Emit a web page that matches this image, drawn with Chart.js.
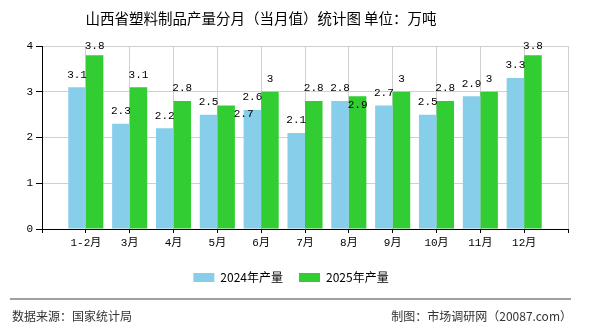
<!DOCTYPE html>
<html>
<head>
<meta charset="utf-8">
<script src="https://cdn.jsdelivr.net/npm/chart.js@4/dist/chart.umd.min.js"></script>
<style>
  html, body { margin: 0; padding: 0; background: #fff; }
  #wrap { width: 590px; height: 330px; position: relative; }
</style>
</head>
<body>
<div id="wrap"><canvas id="c" width="590" height="330"></canvas></div>
<script>
// ---- data ----
const categories = ['1-2月', '3月', '4月', '5月', '6月', '7月', '8月', '9月', '10月', '11月', '12月'];
const values2024 = [3.1, 2.3, 2.2, 2.5, 2.6, 2.1, 2.8, 2.7, 2.5, 2.9, 3.3];
const values2025 = [3.8, 3.1, 2.8, 2.7, 3, 2.8, 2.9, 3, 2.8, 3, 3.8];
const seriesNames = ['2024年产量', '2025年产量'];
const yTicks = [0, 1, 2, 3, 4];
const titleText = '山西省塑料制品产量分月（当月值）统计图 单位：万吨';
const sourceText = '数据来源：国家统计局';
const creditText = '制图：市场调研网（20087.com）';

// empty slots at both ends so category ticks sit on the gridlines
const labels = [''].concat(categories, ['']);
const pad = arr => [null].concat(arr, [null]);

const monoFont = "'Liberation Mono', 'DejaVu Sans Mono', 'Noto Sans CJK SC', monospace";
const cjkFont = "'Noto Sans CJK SC', 'Liberation Sans', sans-serif";

// label nudges for collided labels: key "datasetIndex-categoryIndex"
const labelNudge = { '1-3': [17.5, 21], '1-6': [0, 21.5] };

const decorPlugin = {
  id: 'decor',
  beforeDraw(chart) {
    const ctx = chart.ctx;
    ctx.save();
    ctx.fillStyle = '#fff';
    ctx.fillRect(0, 0, chart.width, chart.height);
    ctx.restore();
  },
  afterDraw(chart) {
    const ctx = chart.ctx;
    ctx.save();
    ctx.fillStyle = '#000';
    ctx.font = '14.5px ' + cjkFont;
    ctx.textAlign = 'center';
    ctx.textBaseline = 'middle';
    ctx.fillText(titleText, 261, 18);
    ctx.strokeStyle = '#808080';
    ctx.lineWidth = 1.5;
    ctx.beginPath();
    ctx.moveTo(10, 299);
    ctx.lineTo(571, 299);
    ctx.stroke();
    ctx.fillStyle = '#333';
    ctx.font = '12px ' + cjkFont;
    ctx.textAlign = 'left';
    ctx.fillText(sourceText, 12, 316);
    ctx.textAlign = 'right';
    ctx.fillText(creditText, 572, 316);
    ctx.restore();
  },
  afterDatasetsDraw(chart) {
    const ctx = chart.ctx;
    const top = chart.chartArea.top;
    ctx.save();
    ctx.fillStyle = '#000';
    ctx.font = '11px ' + monoFont;
    ctx.textAlign = 'center';
    ctx.textBaseline = 'middle';
    chart.data.datasets.forEach((ds, di) => {
      const meta = chart.getDatasetMeta(di);
      meta.data.forEach((el, i) => {
        const v = ds.data[i];
        if (v === null || v === undefined) return;
        const n = labelNudge[di + '-' + (i - 1)] || [0, 0];
        const y = Math.max(el.y - 12.5, top + 0.5);
        ctx.fillText(String(v), el.x + n[0], y + n[1]);
      });
    });
    ctx.restore();
  }
};

new Chart(document.getElementById('c'), {
  type: 'bar',
  data: {
    labels: labels,
    datasets: [
      { label: seriesNames[0], data: pad(values2024), backgroundColor: '#87CEEB', borderWidth: 0 },
      { label: seriesNames[1], data: pad(values2025), backgroundColor: '#32CD32', borderWidth: 0 }
    ]
  },
  options: {
    responsive: false,
    animation: false,
    devicePixelRatio: 1,
    layout: { padding: { top: 46, right: 8, bottom: 36.5, left: 0 } },
    datasets: { bar: { categoryPercentage: 0.8, barPercentage: 1.0 } },
    scales: {
      x: {
        type: 'category',
        offset: false,
        grid: { offset: false, color: '#d0d0d0', tickColor: '#000', tickLength: 4, lineWidth: 1 },
        border: { display: true, color: '#000', width: 1 },
        ticks: { autoSkip: false, maxRotation: 0, padding: 3, color: '#000', font: { family: monoFont, size: 11 } },
        afterFit(s) { s.height = 26.5; }
      },
      y: {
        min: 0, max: 4,
        afterBuildTicks(s) { s.ticks = yTicks.map(v => ({ value: v })); },
        grid: { color: '#d0d0d0', tickColor: '#000', tickLength: 6 },
        border: { display: true, color: '#000', width: 1 },
        ticks: { padding: 3, color: '#000', font: { family: monoFont, size: 11 } },
        afterFit(s) { s.width = 42; }
      },
      yr: {
        position: 'right',
        display: true,
        grid: { display: false, drawTicks: false },
        border: { display: false },
        ticks: { display: false },
        afterFit(s) { s.width = 14; }
      }
    },
    plugins: {
      title: { display: false },
      tooltip: { enabled: false },
      legend: {
        display: true,
        position: 'bottom',
        labels: {
          boxWidth: 21,
          boxHeight: 9,
          padding: 16,
          color: '#000',
          font: { family: cjkFont, size: 12 }
        }
      }
    }
  },
  plugins: [decorPlugin]
});
</script>
</body>
</html>
